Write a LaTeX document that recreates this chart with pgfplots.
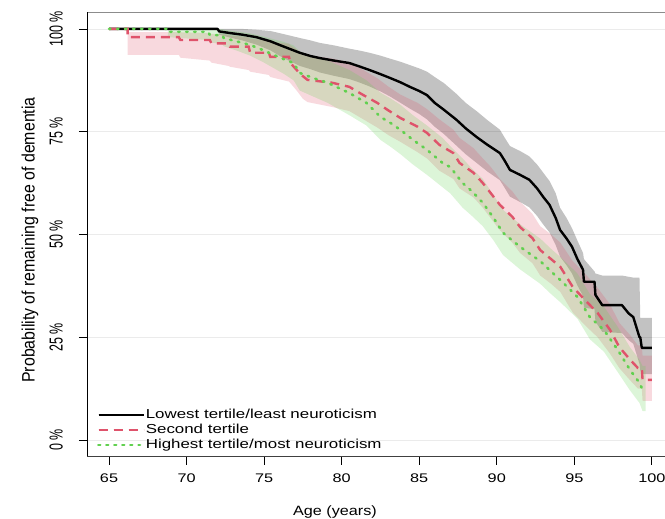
\documentclass[border=0pt]{standalone}
\usepackage{pgfplots}
\pgfplotsset{compat=1.18}
\usepackage{pgfplotstable}
\usepgfplotslibrary{fillbetween}
\usepackage{graphicx}
\usepackage{fontspec}
\setmainfont{Liberation Sans}
\newfontfamily\stretchsans{Liberation Sans}[FakeStretch=1.3]
\newfontfamily\legsans{Liberation Sans}[FakeStretch=1.3]
\newfontfamily\labsans{Liberation Sans}[FakeStretch=1.2]
\definecolor{kmred}{HTML}{DF536B}
\definecolor{kmgreen}{HTML}{61D04F}
\newcommand\ytl[1]{\scalebox{1}[1.5]{#1}}

\pgfplotstableread{
x y u l
65 100 100 100
72.0 100 100 100
72.1 99.4 100 98.6
72.8 99.0 100 97.9
73.6 98.6 100 97.2
74.5 98.0 99.8 96.2
75.4 97.0 99.5 94.8
76.2 95.8 98.8 93.0
77.3 94.2 97.8 91.0
78.0 93.4 97.2 90.2
78.6 92.9 96.6 89.4
79.5 92.3 96.0 88.6
80.5 91.7 95.2 87.8
81.2 90.8 94.7 86.9
81.8 90.0 94.2 86.0
82.5 89.0 93.5 84.8
83.1 88.1 92.8 83.6
83.8 87.0 92.0 82.0
84.4 85.9 91.2 80.6
85.0 84.9 90.4 79.3
85.5 83.9 89.6 78.0
86.0 82.0 88.3 76.2
86.6 80.3 86.8 74.4
87.4 77.9 84.2 71.6
88.0 75.8 82.0 69.5
88.7 73.7 80.0 67.4
89.4 71.8 77.8 65.3
90.2 69.8 75.5 63.2
90.5 68.0 73.6 61.4
90.85 65.7 71.5 59.2
91.5 64.5 70.3 57.9
92.1 63.3 69.0 56.6
92.6 61.2 67.0 54.5
93.0 59.1 65.0 52.4
93.4 57.2 63.0 50.5
93.8 54.0 60.0 47.4
94.08 51.1 56.5 44.6
94.5 49.0 54.0 42.5
94.85 47.0 51.5 40.5
95.2 44.0 48.5 37.6
95.56 41.4 45.5 35.0
95.62 38.5 44.0 32.2
96.3 38.5 41.0 31.8
96.36 35.3 40.5 28.8
96.8 32.8 40.0 26.3
98.07 32.8 40.0 26.0
98.5 30.8 39.7 24.3
98.8 29.9 39.5 23.4
99.2 25.0 39.5 18.5
99.25 25.0 29.7 17.0
99.35 22.4 29.7 16.0
100 22.4 29.7 16.0
}\lowtab

\pgfplotstableread{
x y u l
65 100 100 100
66.2 100 100 100
66.2 98.0 99.2 93.7
69.5 98.0 99.2 93.7
69.6 97.3 99.2 93.0
71.5 97.3 99.0 92.3
71.6 96.5 98.8 91.8
72.7 96.5 98.6 91.0
72.8 95.7 98.4 90.8
74.0 95.7 98.0 90.0
74.1 94.2 97.6 89.6
75.3 94.2 97.2 88.8
75.4 93.2 96.8 88.3
76.6 93.2 96.4 87.2
76.7 91.7 96.0 86.8
77.1 90.0 95.0 85.0
77.5 88.5 94.0 83.0
77.8 87.6 93.6 82.2
79.4 86.9 92.8 81.0
80.5 85.9 91.8 80.0
81.4 83.9 90.0 78.0
82.3 82.0 88.0 76.0
83.0 80.2 86.0 74.2
83.8 78.3 84.0 72.5
84.9 76.2 82.0 70.0
85.5 74.7 80.5 68.5
86.3 71.8 78.0 65.5
87.2 69.8 75.5 63.5
87.6 67.4 73.5 61.2
88.5 65.0 71.0 59.0
89.1 62.5 68.5 56.5
89.6 60.1 66.5 54.0
90.2 57.2 63.5 51.0
91.0 54.3 60.5 48.0
91.5 51.8 58.0 45.5
92.3 49.1 55.0 43.0
92.8 46.2 52.0 40.0
93.5 44.0 50.0 38.0
94.1 42.1 48.0 36.0
94.9 37.2 43.5 31.0
95.8 33.6 40.0 27.5
96.5 30.9 37.0 25.0
97.3 26.8 33.0 21.0
97.9 22.6 28.5 17.5
98.6 19.5 25.5 14.5
99.1 17.5 23.0 12.5
99.35 17.5 23.0 12.5
99.4 14.6 20.5 9.5
100 14.6 20.5 9.5
}\midtab

\pgfplotstableread{
x y u l
65 100 100 100
68.8 100 100 100
68.8 99.3 100 98.0
71.4 99.3 100 97.3
71.5 98.5 100 96.8
72.3 98.5 99.9 96.2
72.4 97.8 99.8 95.8
73.4 96.8 99.3 94.5
74.1 96.1 98.9 93.5
74.9 94.9 98.2 92.0
75.6 93.7 97.5 90.5
76.3 92.6 96.8 89.0
76.9 91.7 96.0 87.5
77.3 89.3 94.5 85.0
78.2 88.0 93.3 83.5
79.1 86.9 92.3 82.0
80.5 84.4 90.0 79.0
81.6 82.0 87.5 76.5
82.5 78.6 84.5 73.0
83.2 77.0 83.0 71.2
83.8 75.4 81.5 69.5
84.6 73.0 79.0 67.0
85.5 70.6 76.5 64.5
86.5 67.4 73.5 61.5
87.0 66.4 71.5 60.0
87.8 62.5 68.5 56.5
88.4 60.5 66.0 54.5
89.1 57.7 63.5 52.0
89.8 54.0 59.5 48.5
90.4 50.4 56.0 45.0
91.5 47.0 52.5 41.5
92.8 43.5 49.0 38.0
93.5 41.0 46.5 35.5
94.1 38.9 44.5 33.5
95.2 34.8 40.5 29.5
96.0 29.9 35.5 24.5
96.9 26.8 32.5 21.5
97.8 21.9 27.5 16.5
98.6 17.0 22.5 12.0
99.2 13.9 19.5 9.0
99.4 12.2 18.0 7.0
99.6 12.2 18.0 7.0
}\hightab

\begin{document}
\begin{tikzpicture}
\begin{axis}[
  name=ax,
  scale only axis,
  width=586.3pt, height=443.9pt,
  xmin=63.6, xmax=101.4, ymin=-4, ymax=104,
  clip=false,
  xtick={65,70,75,80,85,90,95,100},
  xticklabels={65,70,75,80,85,90,95,100},
  ytick={0,25,50,75,100},
  yticklabels={\ytl{0 \%},\ytl{25 \%},\ytl{50 \%},\ytl{75 \%},\ytl{100 \%}},
  tick pos=left,
  tick align=outside,
  major tick length=8.5pt,
  tick style={black, line width=0.8pt},
  ymajorgrids,
  major grid style={color=black!8, line width=0.8pt},
  axis line style={draw=none},
  xticklabel style={font=\stretchsans\fontsize{12.5}{15}\selectfont, anchor=north, inner sep=0pt},
  yticklabel style={font=\fontsize{12.5}{15}\selectfont, rotate=90, anchor=south, inner sep=0pt},
  xticklabel shift=9.1pt,
  yticklabel shift=15.8pt,
  xlabel={Age (years)},
  xlabel style={at={(axis description cs:0.4225,-0.1253)}, anchor=center, inner sep=0pt, font=\labsans\fontsize{13.5}{16}\selectfont},
  ylabel={\scalebox{1}[1.13]{Probability of remaining free of dementia}},
  ylabel style={at={(axis description cs:-0.0977,0.4875)}, anchor=center, inner sep=0pt, font=\fontsize{15.9}{18}\selectfont},
  legend style={at={(axis description cs:0.0166,0.1108)}, anchor=north west, draw=none, fill=none,
    font=\legsans\fontsize{13}{16}\selectfont, inner sep=0pt, row sep=0pt,
    nodes={inner sep=1pt, text height=10pt, text depth=3pt}},
  legend cell align=left,
  legend image code/.code={\draw[#1] (0pt,0pt) -- (34pt,0pt); \path (0pt,0pt) -- (45pt,0pt);},
]
% confidence bands
\addplot[name path=bu, draw=none, forget plot] table[x=x,y=u]{\lowtab};
\addplot[name path=bl, draw=none, forget plot] table[x=x,y=l]{\lowtab};
\addplot[fill=black, fill opacity=0.24, draw=none, forget plot] fill between[of=bu and bl];
\addplot[name path=ru, draw=none, forget plot] table[x=x,y=u]{\midtab};
\addplot[name path=rl, draw=none, forget plot] table[x=x,y=l]{\midtab};
\addplot[fill=kmred, fill opacity=0.22, draw=none, forget plot] fill between[of=ru and rl];
\addplot[name path=gu, draw=none, forget plot] table[x=x,y=u]{\hightab};
\addplot[name path=gl, draw=none, forget plot] table[x=x,y=l]{\hightab};
\addplot[fill=kmgreen, fill opacity=0.22, draw=none, forget plot] fill between[of=gu and gl];
% curves
\addplot[black, line width=2.4pt, line join=round] table[x=x,y=y]{\lowtab};
\addplot[kmred, line width=2.4pt, dash pattern=on 9pt off 6pt] table[x=x,y=y]{\midtab};
\addplot[kmgreen, line width=2.6pt, line cap=round, dash pattern=on 1.5pt off 6.5pt] table[x=x,y=y]{\hightab};
\legend{Lowest tertile/least neuroticism, Second tertile, Highest tertile/most neuroticism}
% axis box
\draw[black!45, line width=0.7pt] (rel axis cs:0,1) -- (rel axis cs:1,1);
\draw[black!75, line width=0.8pt] (rel axis cs:0,0) -- (rel axis cs:1,0);
\draw[black, line width=1pt] (rel axis cs:0,0) -- (rel axis cs:0,1);
\end{axis}
\pgfresetboundingbox
\path[use as bounding box] ([xshift=-87.3pt,yshift=-62.6pt]ax.south west) rectangle ([xshift=577.7pt,yshift=456.4pt]ax.south west);
\end{tikzpicture}
\end{document}
